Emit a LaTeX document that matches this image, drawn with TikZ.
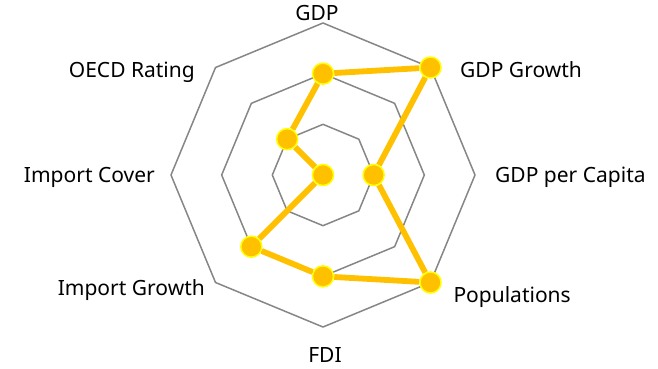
\documentclass[tikz,border=0pt]{standalone}
\usepackage{fontspec}
\setmainfont{Noto Sans}
\usetikzlibrary{calc}
\usetikzlibrary{positioning}
\usetikzlibrary{backgrounds}
\definecolor{GridGray}{RGB}{134,134,134}
\definecolor{SeriesGold}{RGB}{255,192,0}
\definecolor{MarkerRim}{RGB}{255,255,0}
\tikzset{
	AxisLabel/.style={inner sep=0pt, font=\fontsize{21}{24}\selectfont},
	DataPoint/.style={circle, fill=SeriesGold, draw=MarkerRim, line width=1.5pt, minimum size=21pt, inner sep=0pt},
	GridLine/.style={draw=GridGray, line width=1.5pt, line join=round},
	SeriesLine/.style={draw=SeriesGold, line width=5.8pt}
}

\begin{document}
\begin{tikzpicture}[x=1pt, y=1pt]
	\def\LevelStep{50.67}
	\useasboundingbox (-323,-193) rectangle (335,175);
	%%%%%%%%%%%%%%%%%%%%%%%%%%%%%%%%%%%%%%%%%%%%%%%%%%%%%%%%%%
	% data points (angle / level / name)
	\foreach \Angle/\Level/\Name in {90/2/gdp, 45/3/growth, 0/1/capita, -45/3/pop, -90/2/fdi, -135/2/impgrowth, 180/0/impcover, 135/1/oecd}
		\node[DataPoint] (\Name) at (\Angle:{\Level*\LevelStep}) {};
	
	\begin{scope}[on background layer]
		% grid octagons
		\foreach \Level in {1,2,3}
			\draw[GridLine] (90:{\Level*\LevelStep}) -- (45:{\Level*\LevelStep}) -- (0:{\Level*\LevelStep}) -- (-45:{\Level*\LevelStep}) -- (-90:{\Level*\LevelStep}) -- (-135:{\Level*\LevelStep}) -- (180:{\Level*\LevelStep}) -- (135:{\Level*\LevelStep}) -- cycle;
		
		% series outline
		\draw[SeriesLine] (gdp) -- (growth) -- (capita) -- (pop) -- (fdi) -- (impgrowth) -- (impcover) -- (oecd) -- (gdp);
	\end{scope}
	
	%%%%%%%%%%%%%%%%%%%%%%%%%%%%%%%%%%%%%%%%%%%%%%%%%%%%%%%%%%
	% axis labels
	\node[AxisLabel, anchor=base] (lblgdp) at (-6,155) {GDP};
	\node[AxisLabel, anchor=base west] (lblgrowth) at (137,97.7) {GDP Growth};
	\node[AxisLabel, anchor=base west] (lblcapita) at (172,-7.3) {GDP per Capita};
	\node[AxisLabel, anchor=base west] (lblpop) at (130.3,-127.7) {Populations};
	\node[AxisLabel, anchor=base] (lblfdi) at (2,-187.5) {FDI};
	\node[AxisLabel, anchor=base east] (lblimpgrowth) at (-118,-120.7) {Import Growth};
	\node[AxisLabel, anchor=base east] (lblimpcover) at (-168,-7.3) {Import Cover};
	\node[AxisLabel, anchor=base east] (lbloecd) at (-128,97.7) {OECD Rating};
	
\end{tikzpicture}
\end{document}
